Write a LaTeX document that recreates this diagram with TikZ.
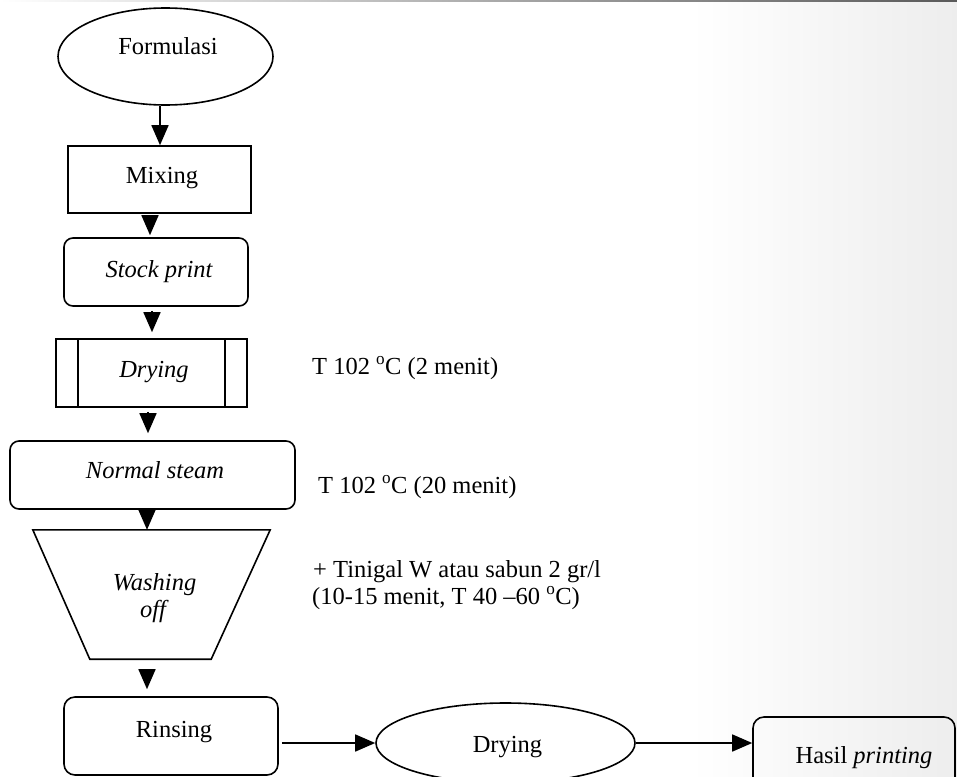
\documentclass[tikz,border=0pt]{standalone}
\usepackage{fontspec}
\setmainfont{Liberation Serif}
\usetikzlibrary{arrows.meta,shapes.geometric}
\begin{document}
\begin{tikzpicture}[x=1pt,y=-1pt,
  txt/.style={font=\fontsize{24.5}{27}\selectfont, inner sep=0pt, anchor=base},
  sidetxt/.style={font=\fontsize{24.5}{27}\selectfont, inner sep=0pt, anchor=base west},
  ln/.style={line width=1.6pt},
  arr/.style={line width=1.6pt, -{Triangle[length=20pt,width=17pt]}},
  oval/.style={draw, ellipse, line width=1.6pt, inner sep=0pt},
  plainbox/.style={draw, rectangle, line width=1.6pt, inner sep=0pt},
  rbox/.style={draw, rectangle, rounded corners=9pt, line width=1.6pt, inner sep=0pt},
  ghost/.style={rectangle, inner sep=0pt}]
\useasboundingbox (0,0) rectangle (957,776);
\clip (0,0) rectangle (957,776);
% paper tone
\shade[left color=white, right color=black!7] (690,0) rectangle (957,776);
\shade[left color=white, right color=black!65] (0,0) rectangle (957,2);

% shapes
\node[oval, minimum width=215pt, minimum height=97pt] (form) at (165.5,56.5) {};
\node[plainbox, minimum width=183pt, minimum height=67pt] (mix) at (159.5,179.5) {};
\node[rbox, minimum width=184pt, minimum height=68pt] (stock) at (156,272) {};
\node[plainbox, minimum width=191pt, minimum height=68pt] (dry) at (151.5,373) {};
\draw[ln] ([xshift=23pt]dry.north west) -- ([xshift=23pt]dry.south west);
\draw[ln] ([xshift=-23pt]dry.north east) -- ([xshift=-23pt]dry.south east);
\node[rbox, minimum width=285pt, minimum height=68pt] (steam) at (152.5,475) {};
\node[ghost, minimum width=237pt, minimum height=129pt] (wash) at (151.5,594.5) {};
\draw[ln, line join=miter] (wash.north west) -- (wash.north east) -- ([xshift=-59pt]wash.south east) -- ([xshift=57pt]wash.south west) -- cycle;
\node[rbox, rounded corners=11pt, minimum width=214pt, minimum height=78pt] (rinse) at (171,736) {};
\node[oval, minimum width=259pt, minimum height=80pt] (dry2) at (505.5,743) {};
\node[rbox, rounded corners=11pt, minimum width=202pt, minimum height=74pt] (hasil) at (854,754) {};

% texts
\node[txt] (formT) at (168,55) {Formulasi};
\node[txt] (mixT) at (162,183) {Mixing};
\node[txt] (stockT) at (159,277) {\itshape Stock print};
\node[txt] (dryT) at (154,377) {\itshape Drying};
\node[txt] (steamT) at (155,478) {\itshape Normal steam};
\node[txt] (washT1) at (154.5,590) {\itshape Washing};
\node[txt] (washT2) at (153,617) {\itshape off};
\node[txt] (rinseT) at (174,737) {Rinsing};
\node[txt] (dry2T) at (507.5,752) {Drying};
\node[txt] (hasilT) at (864,763) {Hasil \textit{printing}};

\node[sidetxt] (c1) at (312,374) {T 102 \textsuperscript{o}C (2 menit)};
\node[sidetxt] (c2) at (318,493) {T 102 \textsuperscript{o}C (20 menit)};
\node[sidetxt] (c3) at (313,577) {+ Tinigal W atau sabun 2 gr/l};
\node[sidetxt] (c4) at (312,604) {(10-15 menit, T 40 --60 \textsuperscript{o}C)};

% connectors
\draw[arr] (form.south -| 160,0) -- (mix.north -| 160,0);
\draw[arr, shorten <=2pt, shorten >=2pt] (mix.south -| 150,0) -- (stock.north -| 150,0);
\draw[arr, shorten <=4pt, shorten >=6pt] (stock.south -| 152,0) -- (dry.north -| 152,0);
\draw[arr, shorten <=4pt, shorten >=7pt] (dry.south -| 148,0) -- (steam.north -| 148,0);
\draw[arr] (steam.south -| 147,0) -- (wash.north -| 147,0);
\draw[arr, shorten <=10pt, shorten >=7pt] (wash.south -| 147,0) -- (rinse.north -| 147,0);
\draw[arr, shorten <=3pt] (rinse.east |- dry2.west) -- (dry2.west);
\draw[arr] (dry2.east) -- (hasil.west |- dry2.east);
\end{tikzpicture}
\end{document}
